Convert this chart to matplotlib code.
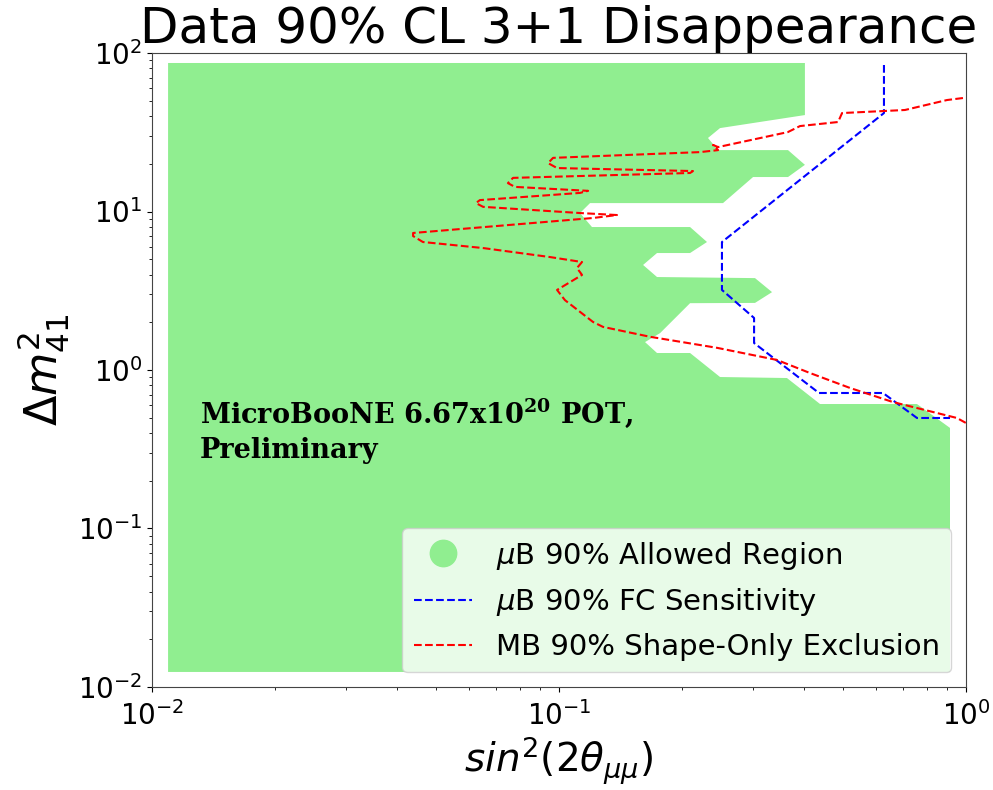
import numpy as np
import matplotlib
matplotlib.use('Agg')
import matplotlib.pyplot as plt
from matplotlib.lines import Line2D

# allowed region boundary (sin^2 2theta, dm^2), traced clockwise from bottom-left
allowed_x = [0.01095, 0.01095, 0.402, 0.402, 0.2487, 0.2323, 0.2459, 0.3653, 0.402,
             0.3653, 0.2998, 0.2529, 0.1192, 0.1126, 0.1205, 0.2099, 0.2310, 0.2099,
             0.1741, 0.1609, 0.1741, 0.3031, 0.3338, 0.3031, 0.2099, 0.1772, 0.1627,
             0.1741, 0.2099, 0.2487, 0.3631, 0.4379, 0.7578, 0.9135, 0.9135]
allowed_y = [0.01244, 86.5, 86.5, 40.6, 33.6, 29.1, 24.4, 24.4, 19.7,
             16.5, 16.5, 11.3, 11.3, 9.78, 7.98, 7.98, 6.42, 5.47,
             5.47, 4.60, 3.86, 3.80, 3.10, 2.65, 2.64, 1.71, 1.50,
             1.28, 1.28, 0.903, 0.89, 0.610, 0.610, 0.431, 0.01244]

# uB FC sensitivity
sens_x = [0.6287, 0.6287, 0.2514, 0.2514, 0.3015, 0.3015, 0.4353, 0.6253, 0.7578, 0.9135]
sens_y = [84.0, 41.8, 6.42, 3.20, 2.13, 1.48, 0.716, 0.716, 0.498, 0.498]

# MiniBooNE shape-only exclusion
mb_x = [0.983, 0.898, 0.708, 0.496, 0.485, 0.391, 0.365, 0.246, 0.239, 0.246, 0.222,
        0.0967, 0.0940, 0.0989, 0.2134, 0.2099, 0.0771, 0.0749, 0.0779, 0.1179, 0.1126,
        0.0639, 0.0625, 0.0651, 0.1126, 0.1388, 0.1212, 0.0438, 0.0438, 0.0463, 0.0651,
        0.0950, 0.1139, 0.1107, 0.1139, 0.0989, 0.1034, 0.1212, 0.1283, 0.1674, 0.2445,
        0.3432, 0.4137, 0.519, 0.661, 0.830, 0.950, 1.0]
mb_y = [52.0, 50.5, 43.7, 41.8, 36.7, 34.6, 31.7, 25.5, 26.3, 24.4, 23.7,
        21.8, 20.2, 18.8, 18.0, 17.5, 16.3, 15.1, 14.3, 13.5, 13.1,
        11.8, 11.3, 10.7, 9.78, 9.50, 9.10, 7.32, 7.00, 6.42, 5.88,
        5.16, 4.80, 4.40, 3.98, 3.20, 2.76, 2.01, 1.87, 1.62, 1.38,
        1.157, 0.957, 0.770, 0.628, 0.543, 0.498, 0.463]

fig = plt.figure(figsize=(9.93, 7.9), dpi=100)
ax = fig.add_axes([0.1531, 0.1304, 0.8197, 0.8025])

ax.fill(allowed_x, allowed_y, color='lightgreen', lw=0)
ax.plot(sens_x, sens_y, 'b--', lw=1.5)
ax.plot(mb_x, mb_y, 'r--', lw=1.5)

ax.set_xscale('log')
ax.set_yscale('log')
ax.set_xlim(1e-2, 1)
ax.set_ylim(1e-2, 1e2)
ax.tick_params(labelsize=20)
ax.tick_params(axis='x', which='major', pad=7)
for s in ax.spines.values():
    s.set_color('#444444')

ax.set_title('Data 90% CL 3+1 Disappearance', fontsize=36, pad=3)
ax.set_xlabel(r'$sin^2(2\theta_{\mu\mu})$', fontsize=28, labelpad=2)
ax.set_ylabel(r'$\Delta m^2_{41}$', fontsize=32, labelpad=4)

ax.text(0.0131, 0.676, 'MicroBooNE 6.67x10$^{\\mathbf{20}}$ POT,\nPreliminary',
        fontsize=19.5, fontweight='bold', family='DejaVu Serif', va='top',
        linespacing=1.3, math_fontfamily='dejavuserif')

handles = [Line2D([], [], marker='o', ls='none', color='lightgreen', markersize=19),
           Line2D([], [], color='b', ls='--', lw=1.5),
           Line2D([], [], color='r', ls='--', lw=1.5)]
labels = [r'$\mu$B 90% Allowed Region', r'$\mu$B 90% FC Sensitivity',
          'MB 90% Shape-Only Exclusion']
ax.legend(handles, labels, loc='lower right', fontsize=21, borderaxespad=0.5)

fig.savefig('out.png', dpi=100)
